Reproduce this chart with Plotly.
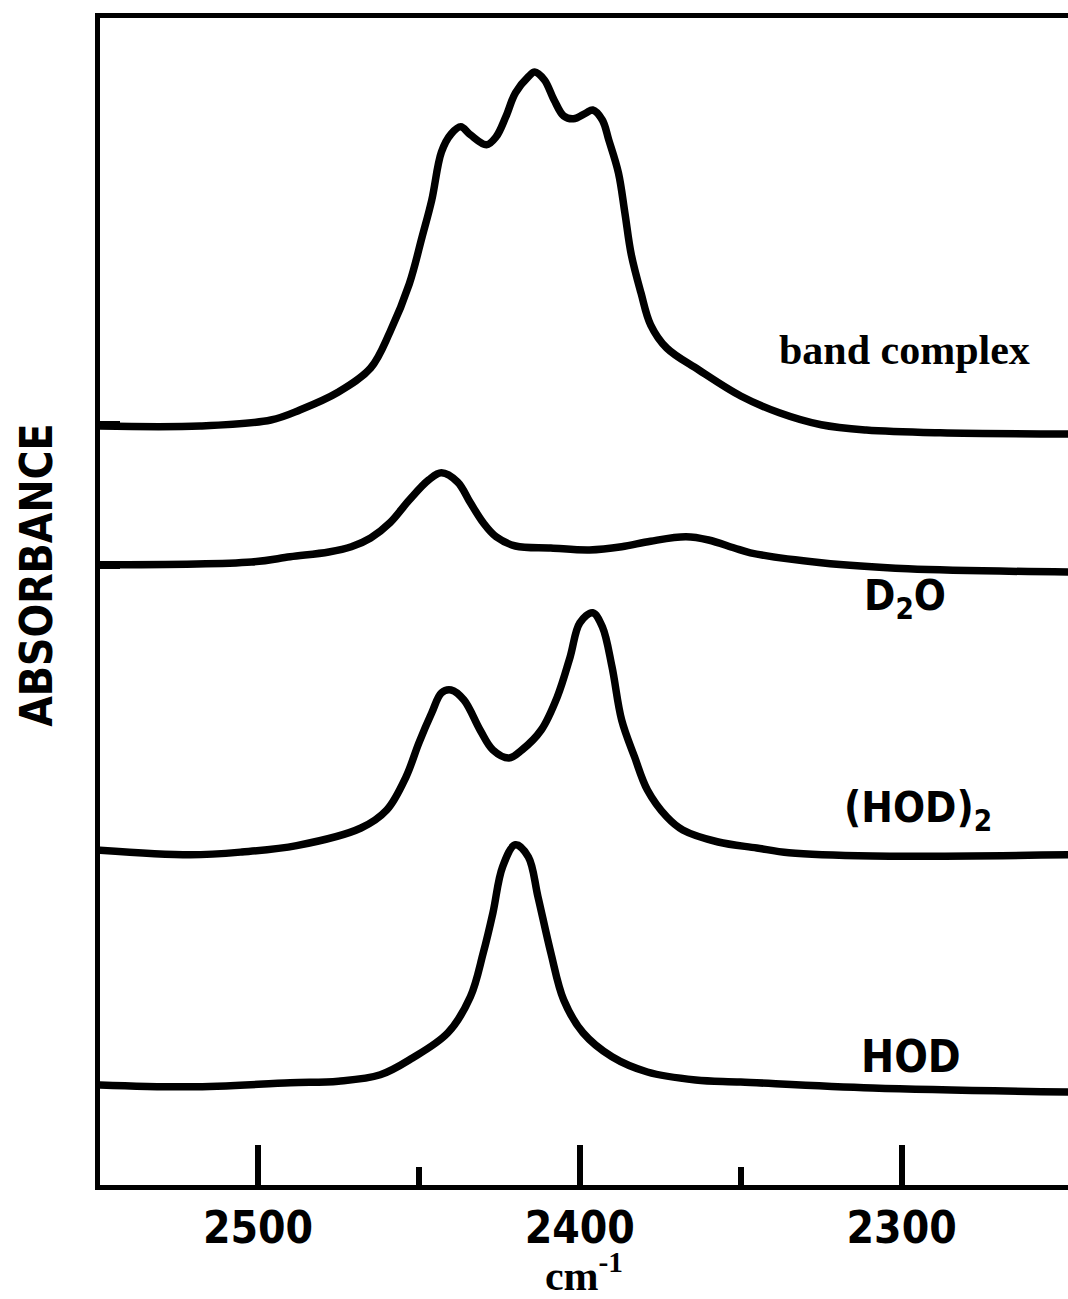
import plotly.graph_objects as go

# O-D stretching region of water species in matrix, stacked spectra (offset absorbance)
band_nu = [2550, 2518, 2496, 2487, 2475, 2465, 2459, 2453, 2449, 2446, 2443, 2440, 2437, 2434,
           2429, 2426, 2423, 2420, 2416, 2414, 2411, 2408, 2405, 2402, 2398, 2396, 2393, 2391,
           2388, 2386, 2384, 2381, 2378, 2373, 2363, 2350, 2338, 2325, 2311, 2288, 2248]
band_abs = [1.905, 1.905, 1.920, 1.945, 1.990, 2.050, 2.140, 2.260, 2.378, 2.470, 2.590, 2.635,
            2.653, 2.633, 2.608, 2.628, 2.678, 2.738, 2.778, 2.790, 2.770, 2.720, 2.680, 2.673,
            2.688, 2.695, 2.670, 2.620, 2.538, 2.438, 2.333, 2.238, 2.158, 2.100, 2.045, 1.980,
            1.938, 1.908, 1.895, 1.888, 1.885]

d2o_nu = [2550, 2502, 2490, 2478, 2471, 2465, 2459, 2453, 2447, 2443, 2438, 2434, 2430, 2426,
          2420, 2409, 2397, 2387, 2378, 2367, 2360, 2352, 2347, 2325, 2298, 2248]
d2o_abs = [1.558, 1.565, 1.578, 1.590, 1.603, 1.625, 1.663, 1.720, 1.770, 1.788, 1.765, 1.713,
           1.663, 1.628, 1.605, 1.600, 1.595, 1.603, 1.617, 1.628, 1.620, 1.600, 1.588,
           1.563, 1.548, 1.540]

dimer_nu = [2550, 2521, 2505, 2488, 2468, 2460, 2454, 2450, 2446, 2443, 2440, 2436, 2431,
            2427, 2422, 2418, 2412, 2407, 2403, 2400, 2396, 2393, 2390, 2387, 2383, 2379, 2373,
            2368, 2357, 2345, 2335, 2309, 2248]
dimer_abs = [0.845, 0.833, 0.840, 0.856, 0.900, 0.945, 1.028, 1.113, 1.188, 1.238, 1.245,
             1.220, 1.145, 1.095, 1.075, 1.095, 1.145, 1.228, 1.328, 1.413, 1.438, 1.403, 1.303,
             1.170, 1.078, 0.995, 0.928, 0.895, 0.865, 0.850, 0.838, 0.830, 0.833]

hod_nu = [2550, 2521, 2490, 2475, 2462, 2452, 2441, 2434, 2430, 2427, 2424, 2420, 2416,
          2413, 2409, 2405, 2399, 2390, 2379, 2364, 2350, 2309, 2248]
hod_abs = [0.258, 0.253, 0.263, 0.267, 0.283, 0.325, 0.388, 0.478, 0.588, 0.688, 0.803,
           0.858, 0.828, 0.728, 0.588, 0.470, 0.388, 0.328, 0.290, 0.270, 0.265, 0.250, 0.240]

# baseline markers on the absorbance axis
baseline_marks = [1.9125, 1.5525]

major_ticks = [2500, 2400, 2300]
minor_ticks = [2450, 2350]

label_font = "Liberation Sans Narrow, DejaVu Sans Condensed, Arial Narrow, sans-serif"
serif_font = "Liberation Serif, DejaVu Serif, serif"

fig = go.Figure()
for nu, ab, name in [(band_nu, band_abs, "band complex"), (d2o_nu, d2o_abs, "D2O"),
                     (dimer_nu, dimer_abs, "(HOD)2"), (hod_nu, hod_abs, "HOD")]:
    fig.add_trace(go.Scatter(x=nu, y=ab, mode="lines", name=name,
                             line=dict(color="black", width=7.5, shape="spline", smoothing=1.0),
                             showlegend=False, hoverinfo="skip"))

labels = [
    (2299, 2.095, "band complex", serif_font, 42),
    (2299, 1.475, "D<sub>2</sub>O", label_font, 42),
    (2295, 0.945, "(HOD)<sub>2</sub>", label_font, 42),
    (2297, 0.330, "HOD", label_font, 44),
]
for x, y, txt, fam, size in labels:
    fig.add_annotation(x=x, y=y, text=txt, showarrow=False,
                       font=dict(family=fam, size=size, color="black", weight="bold"))

# vertical axis label
fig.add_annotation(xref="paper", yref="paper", x=0, y=0.522, xshift=-63,
                   text="ABSORBANCE", textangle=-90, showarrow=False,
                   xanchor="center", yanchor="middle",
                   font=dict(family=label_font, size=44, color="black", weight="bold"))

fig.update_layout(
    width=1068, height=1299,
    margin=dict(l=100, r=0, t=18, b=114),
    paper_bgcolor="white", plot_bgcolor="white",
)
fig.update_xaxes(
    range=[2549.1, 2248.3],
    automargin=False,
    showgrid=False, zeroline=False,
    showline=True, linecolor="black", linewidth=5, mirror=True,
    tickmode="array", tickvals=major_ticks, ticktext=[str(v) for v in major_ticks],
    ticks="inside", ticklen=40, tickwidth=6, tickcolor="black",
    minor=dict(tickmode="array", tickvals=minor_ticks, ticks="inside",
               ticklen=18, tickwidth=6, tickcolor="black"),
    tickfont=dict(family=label_font, size=44, color="black", weight="bold"),
    ticklabelstandoff=0,
    title=dict(text="cm<sup>-1</sup>", standoff=17,
               font=dict(family=serif_font, size=42, color="black", weight="bold")),
)
fig.update_yaxes(
    range=[0.0075, 2.925],
    automargin=False,
    showgrid=False, zeroline=False,
    showline=True, linecolor="black", linewidth=5,
    tickmode="array", tickvals=baseline_marks, showticklabels=False,
    ticks="inside", ticklen=20, tickwidth=4, tickcolor="black",
)

fig.write_html("out.html")
